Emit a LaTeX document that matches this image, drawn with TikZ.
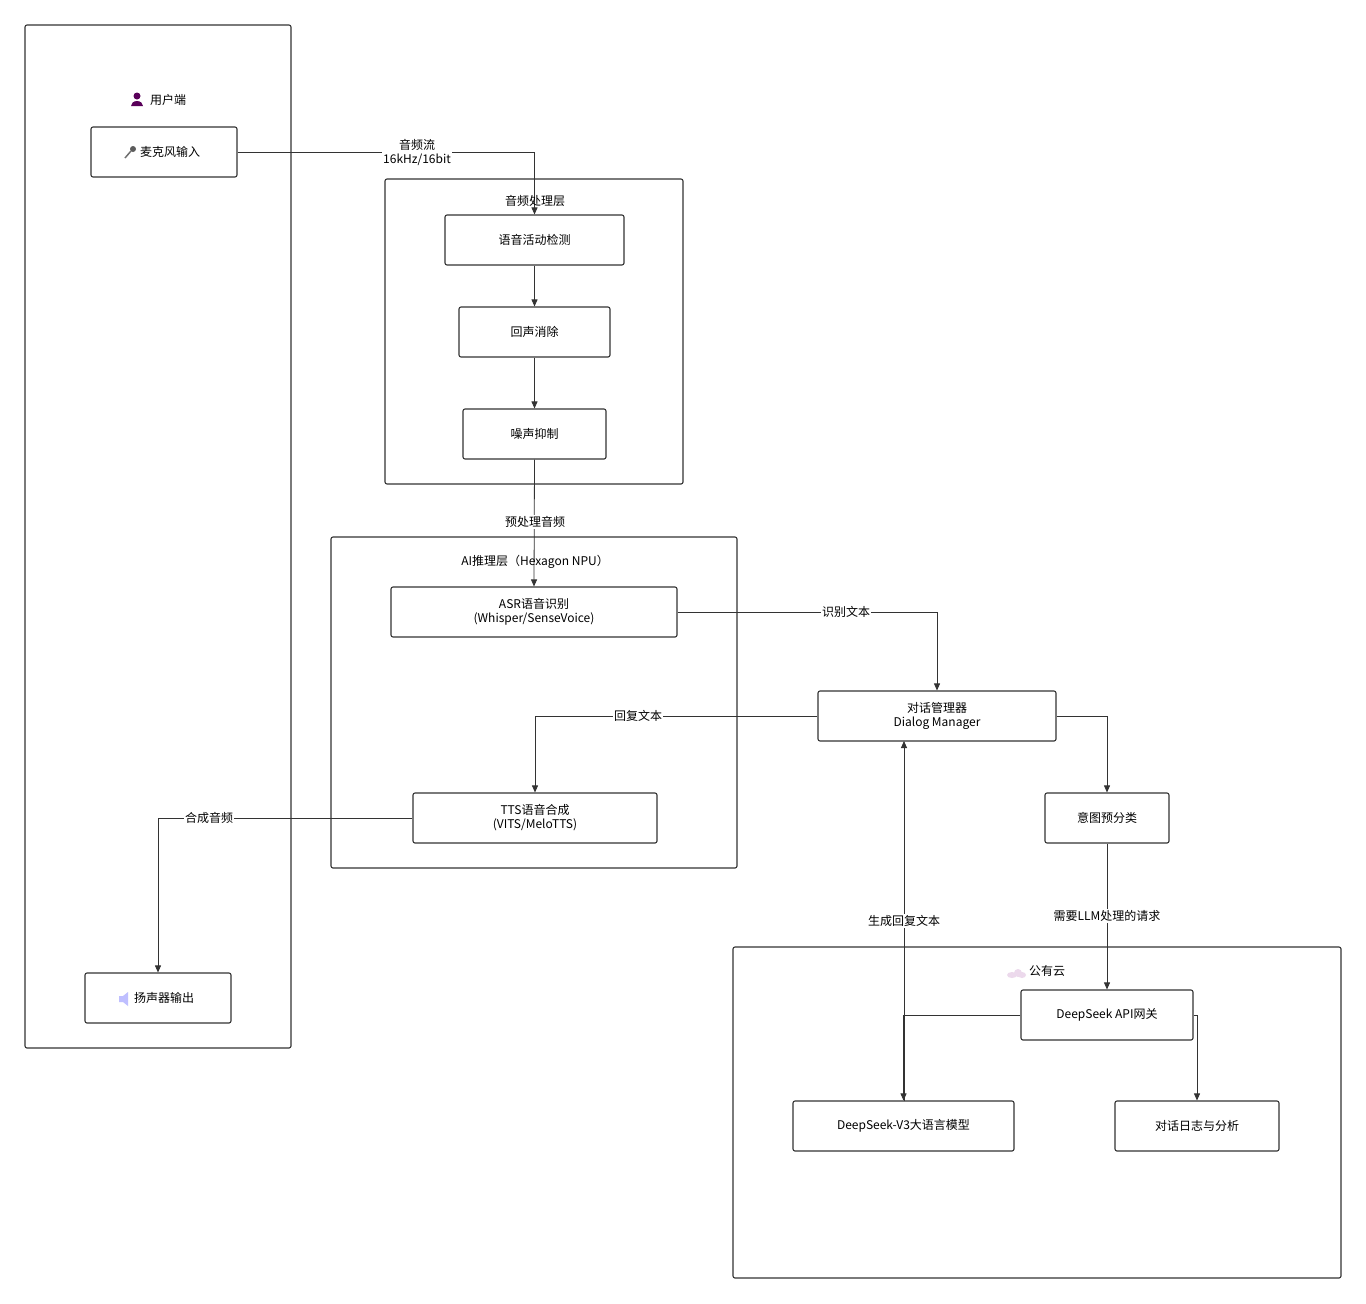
\documentclass[tikz,border=0pt]{standalone}
\usepackage{fontspec}
\setmainfont{Noto Sans CJK SC}
\usetikzlibrary{arrows.meta}
\definecolor{ln}{HTML}{333333}
\begin{document}
\begin{tikzpicture}[x=1pt,y=-1pt,
  font=\fontsize{12}{14}\selectfont,
  box/.style={draw=ln,line width=1.1pt,rounded corners=2pt,align=center,inner sep=0pt},
  clus/.style={draw=ln,line width=1.1pt,rounded corners=2pt},
  ttl/.style={font=\fontsize{12}{14}\selectfont},
  ar/.style={draw=ln,line width=0.8pt,-{Triangle[length=7pt,width=6pt]}},
  lab/.style={fill=white,inner sep=1pt,align=center,font=\fontsize{12}{14}\selectfont}]
\useasboundingbox (0,0) rectangle (1366,1304);
\fill[white] (0,0) rectangle (1366,1304);
% clusters
\draw[clus] (25,25) rectangle (291,1048);
\draw[clus] (385,179) rectangle (683,484);
\draw[clus] (331,537) rectangle (737,868);
\draw[clus] (733,947) rectangle (1341,1278);
\node[ttl] (tU) at (168,100) {用户端};
\fill[violet!70!black] (137,96) circle (3.5) (131,106) arc (180:360:6 and 5) -- cycle;
\fill[violet!15] (1012,975) ellipse (5 and 3) (1018,973) circle (4) (1022,975) ellipse (4 and 3);
% nodes
\node[box,minimum width=146,minimum height=50] (mic) at (164,152) {\hspace{12pt}麦克风输入};
\draw[ln!70,line width=1.5pt] (125,158)--(131,151); \fill[ln!80] (133,149) circle (3);
\node[box,minimum width=146,minimum height=50] (spk) at (158,998) {\hspace{12pt}扬声器输出};
\fill[blue!25] (119,996) rectangle (123,1002) (123,996)--(128,992)--(128,1006)--(123,1002)--cycle;
\node[box,minimum width=179,minimum height=50] (vad) at (534.5,240) {语音活动检测};
\node[box,minimum width=151,minimum height=50] (ec) at (534.5,332) {回声消除};
\node[box,minimum width=143,minimum height=50] (ns) at (534.5,434) {噪声抑制};
\node[box,minimum width=286,minimum height=50] (asr) at (534,612) {ASR语音识别\\(Whisper/SenseVoice)};
\node[box,minimum width=244,minimum height=50] (tts) at (535,818) {TTS语音合成\\(VITS/MeloTTS)};
\node[box,minimum width=238,minimum height=50] (dm) at (937,716) {对话管理器\\Dialog Manager};
\node[box,minimum width=124,minimum height=50] (int) at (1107,818) {意图预分类};
\node[box,minimum width=172,minimum height=50] (gw) at (1107,1015) {DeepSeek API网关};
\node[box,minimum width=221,minimum height=50] (v3) at (903.5,1126) {DeepSeek-V3大语言模型};
\node[box,minimum width=164,minimum height=50] (log) at (1197,1126) {对话日志与分析};
% edges
\draw[ar] (mic.east) -| (vad.north);
\node[lab] (l1) at (417,152) {音频流\\16kHz/16bit};
\node[ttl] (tA) at (535,201) {音频处理层};
\draw[ar] (vad) -- (ec);
\draw[ar] (ec) -- (ns);
\draw[ar] (ns.south) -- (asr.north);
\node[lab] (l2) at (535,522) {预处理音频};
\node[ttl] (tI) at (535,562) {AI推理层（Hexagon NPU）};
\draw[ar] (asr.east) -| (dm.north);
\node[lab] (l3) at (846,612) {识别文本};
\draw[ar] (dm.west) -| (tts.north);
\node[lab] (l4) at (638,716) {回复文本};
\draw[ar] (tts.west) -| (spk.north);
\node[lab] (l5) at (209,818) {合成音频};
\draw[ar] (dm.east) -| (int.north);
\draw[ar] (int.south) -- (gw.north);
\node[lab] (l6) at (1107,916) {需要LLM处理的请求};
\node[ttl] (tC) at (1047,971) {公有云};
\draw[ar] (gw.west) -| (v3.north);
\draw[ar] (904,1101) -- (904,741);
\node[lab] (l7) at (904,921) {生成回复文本};
\draw[ar] (gw.east) -| (log.north);
\end{tikzpicture}
\end{document}
